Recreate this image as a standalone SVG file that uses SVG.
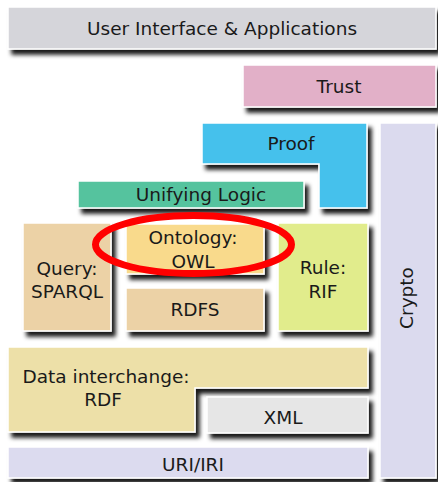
<svg xmlns="http://www.w3.org/2000/svg" width="438" height="482" viewBox="0 0 438 482">
<defs>
<filter id="sh" x="-10%" y="-20%" width="130%" height="160%">
<feDropShadow dx="4" dy="5" stdDeviation="2" flood-color="#000" flood-opacity="0.9"/>
</filter>
</defs>
<style>
.b{stroke:#fff;stroke-width:1.5;filter:url(#sh)}
text{font-family:"DejaVu Sans","Verdana",sans-serif;font-size:18.5px;fill:#1a1a1a;text-anchor:middle}
</style>
<rect width="438" height="482" fill="#fff"/>
<g id="connectors"/>
<g id="crypto"><rect class="b" x="380" y="123" width="56" height="355" fill="#dbdaee"/><text transform="translate(413,298) rotate(-90)">Crypto</text></g>
<g id="ui"><rect class="b" x="8" y="7" width="428" height="42" fill="#d5d5da"/><text x="222" y="35">User Interface &amp; Applications</text></g>
<g id="trust"><rect class="b" x="243" y="65" width="193" height="42" fill="#e2b0c8"/><text x="339" y="93">Trust</text></g>
<g id="proof"><path class="b" d="M202,123 H367 V208 H319 V164 H202 Z" fill="#44c1ec"/><text x="291" y="150">Proof</text></g>
<g id="logic"><rect class="b" x="78" y="181" width="226" height="27" fill="#55c39e"/><text x="201" y="201">Unifying Logic</text></g>
<g id="query"><rect class="b" x="23" y="223" width="88" height="108" fill="#ecd2a6"/><text x="67" y="275">Query:</text><text x="67" y="298">SPARQL</text></g>
<g id="ontology"><rect class="b" x="126" y="224" width="138" height="50" fill="#f9da8c"/><text x="193" y="244">Ontology:</text><text x="193" y="268">OWL</text></g>
<g id="rdfs"><rect class="b" x="126" y="288" width="138" height="43" fill="#ecd2a6"/><text x="195" y="316">RDFS</text></g>
<g id="rule"><rect class="b" x="278" y="223" width="90" height="108" fill="#e1ec8c"/><text x="323" y="274">Rule:</text><text x="323" y="298">RIF</text></g>
<g id="rdf"><path class="b" d="M8,347 H368 V388 H195 V432 H8 Z" fill="#ede0a8"/><text x="106" y="383">Data interchange:</text><text x="103" y="406">RDF</text></g>
<g id="xml"><rect class="b" x="207" y="397" width="161" height="36" fill="#e6e6e6"/><text x="283" y="424">XML</text></g>
<g id="uri"><rect class="b" x="8" y="447" width="360" height="31" fill="#dcdbef"/><text x="193" y="471">URI/IRI</text></g>
<g id="highlight"><ellipse cx="193.5" cy="244.5" rx="98" ry="29" fill="none" stroke="#f00" stroke-width="7"/></g>
</svg>
